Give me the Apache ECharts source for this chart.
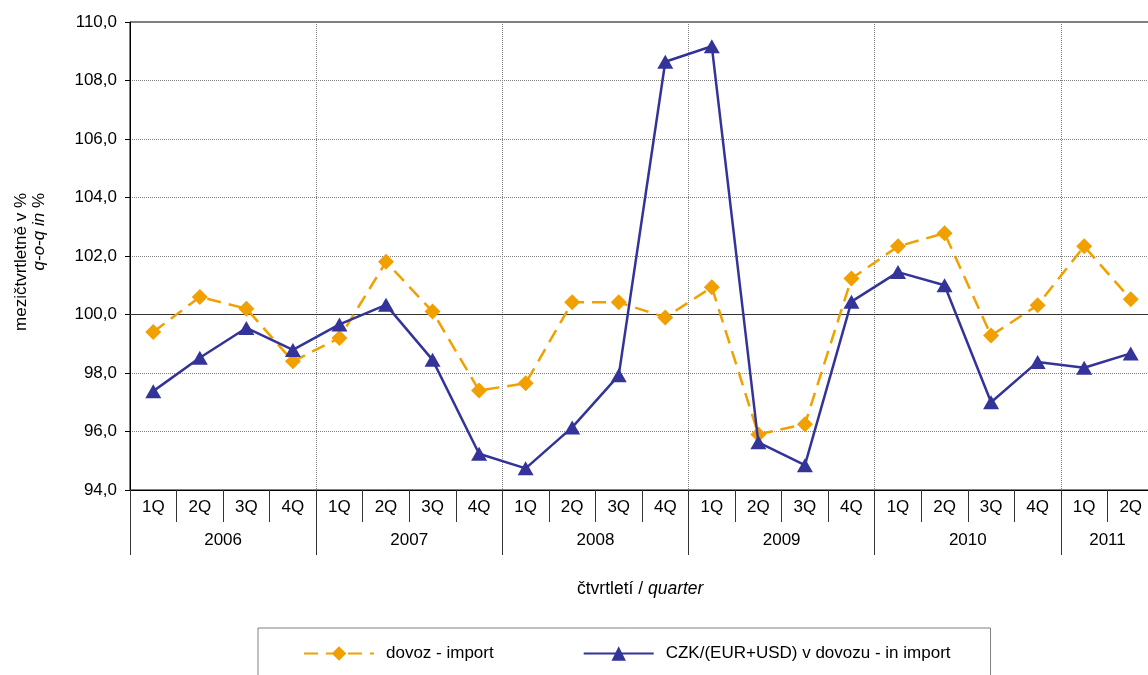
<!DOCTYPE html>
<html>
<head>
<meta charset="utf-8">
<script src="https://cdn.jsdelivr.net/npm/echarts@6/dist/echarts.min.js"></script>
<style>
html,body{margin:0;padding:0;background:#fff;overflow:hidden;}
#c{width:1160px;height:675px;}
</style>
</head>
<body>
<div id="c"></div>
<script>
// ---- data ----
const quarters = ['1Q','2Q','3Q','4Q','1Q','2Q','3Q','4Q','1Q','2Q','3Q','4Q','1Q','2Q','3Q','4Q','1Q','2Q','3Q','4Q','1Q','2Q'];
const years = ['2006','2007','2008','2009','2010','2011'];
const quartersPerYear = [4,4,4,4,4,2];
const dovoz = [99.4,100.6,100.2,98.4,99.2,101.8,100.1,97.4,97.65,100.42,100.42,99.9,100.93,95.9,96.25,101.23,102.33,102.78,99.28,100.32,102.33,100.52];
const czk = [97.38,98.52,99.54,98.79,99.66,100.33,98.45,95.24,94.74,96.14,97.92,108.64,109.17,95.63,94.85,100.44,101.45,101.0,97.0,98.38,98.18,98.67];
const baseline = 100;
const yMin = 94, yMax = 110, yStep = 2;

// ---- derived axis helpers ----
const yearStarts = [];
const yearCenters = [];
let acc = 0;
quartersPerYear.forEach(n => { yearStarts.push(acc); yearCenters.push(acc + n / 2); acc += n; });

const FONT = 'Liberation Sans, Arial, sans-serif';
const chart = echarts.init(document.getElementById('c'));
chart.setOption({
  animation: false,
  textStyle: { fontFamily: FONT },
  grid: { left: 130, width: 1024, top: 22, height: 468, show: true, borderColor: '#000', borderWidth: 1, containLabel: false },
  title: {
    text: '{n|čtvrtletí / }{i|quarter}',
    left: 572, top: 575,
    textStyle: { fontWeight: 'normal', rich: {
      n: { fontSize: 17.5, color: '#000', fontFamily: FONT, fontWeight: 'normal' },
      i: { fontSize: 17.5, color: '#000', fontStyle: 'italic', fontFamily: FONT, fontWeight: 'normal' } } }
  },
  graphic: [{
    type: 'text', x: 30, y: 193, rotation: Math.PI / 2, silent: true,
    style: {
      text: 'mezičtvrtletně v %\n{i|q-o-q in} %',
      align: 'right', verticalAlign: 'middle',
      fontSize: 17, fontFamily: FONT, fill: '#000', lineHeight: 18,
      rich: { i: { fontStyle: 'italic', fontSize: 17, fontFamily: FONT, fill: '#000', lineHeight: 18 } }
    }
  }],
  legend: {
    left: 258, top: 628,
    padding: [17, 40, 32, 45],
    itemGap: 89,
    itemWidth: 70, itemHeight: 18,
    borderColor: '#808080', borderWidth: 1,
    textStyle: { fontSize: 17, color: '#000', fontFamily: FONT, padding: [0, 0, 0, 7] },
    data: ['dovoz - import', 'CZK/(EUR+USD) v dovozu - in import']
  },
  xAxis: [
    {
      type: 'category', data: quarters, position: 'bottom', boundaryGap: true,
      axisLine: { lineStyle: { color: '#000', width: 1 } },
      axisTick: { show: true, interval: 0, length: 32, lineStyle: { color: '#333' } },
      axisLabel: { interval: 0, margin: 9, fontSize: 17, color: '#000', fontFamily: FONT },
      splitLine: { show: true, interval: (i) => yearStarts.indexOf(i) >= 0, lineStyle: { color: '#808080', type: 'dotted', width: 1 } }
    },
    {
      type: 'value', min: 0, max: quarters.length, position: 'bottom',
      axisLine: { show: false },
      axisTick: { show: true, customValues: yearStarts, length: 65, lineStyle: { color: '#333' } },
      axisLabel: {
        customValues: yearCenters, margin: 42, fontSize: 17, color: '#000', fontFamily: FONT,
        formatter: (v) => { const k = yearCenters.indexOf(v); return k >= 0 ? years[k] : ''; }
      },
      splitLine: { show: false }
    }
  ],
  yAxis: {
    type: 'value', min: yMin, max: yMax, interval: yStep,
    axisLine: { show: true, lineStyle: { color: '#000' } },
    axisTick: { show: true, length: 5, lineStyle: { color: '#000' } },
    axisLabel: { margin: 13, fontSize: 17, color: '#000', fontFamily: FONT, formatter: (v) => v.toFixed(1).replace('.', ',') },
    splitLine: { show: true, lineStyle: { color: '#808080', type: 'dotted', width: 1 } }
  },
  series: [
    {
      name: 'dovoz - import', type: 'line', data: dovoz, xAxisIndex: 0,
      symbol: 'diamond', symbolSize: 16,
      lineStyle: { color: '#F0A000', width: 2.5, type: [14, 8] },
      itemStyle: { color: '#F0A000' },
      z: 3,
      markLine: {
        silent: true, symbol: 'none', label: { show: false },
        lineStyle: { color: '#333', type: 'solid', width: 1.2 },
        data: [{ yAxis: baseline }], z: 1
      }
    },
    {
      name: 'CZK/(EUR+USD) v dovozu - in import', type: 'line', data: czk, xAxisIndex: 0,
      symbol: 'triangle', symbolSize: [16, 14],
      lineStyle: { color: '#333399', width: 2.5 },
      itemStyle: { color: '#333399' },
      z: 4
    }
  ]
});
</script>
</body>
</html>
